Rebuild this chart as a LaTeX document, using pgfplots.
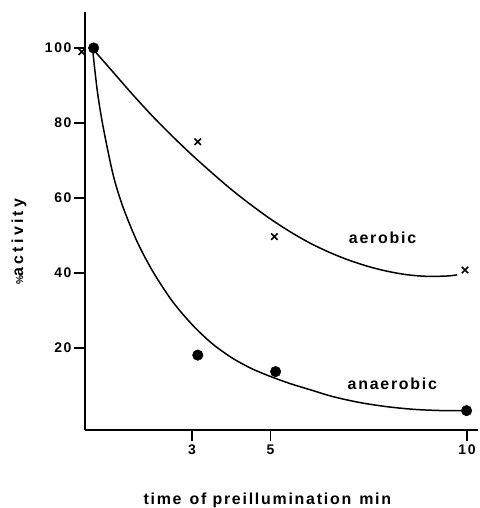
\documentclass[border=0pt]{standalone}
\usepackage{fontspec}
\setmainfont{Liberation Sans}
\usepackage{pgfplots}
\pgfplotsset{compat=1.18}
\newcommand{\lblfont}{\fontsize{16}{17}\selectfont\bfseries\addfontfeature{LetterSpace=11}}
\begin{document}
\begin{tikzpicture}
\useasboundingbox (0,0) rectangle (480bp,508bp);
\begin{axis}[
  at={(85bp,78bp)}, anchor=south west,
  scale only axis, width=393bp, height=418bp,
  xmin=0.28, xmax=10.28, ymin=-1.87, ymax=109.6,
  axis lines*=left,
  axis line style={line width=2bp},
  xtick={3,5,10}, ytick={20,40,60,80,100},
  tick align=outside,
  major tick length=11bp,
  tick style={line width=1.8bp, black},
  /pgf/number format/assume math mode=true,
  ticklabel style={font=\fontsize{14}{15}\selectfont\bfseries\addfontfeature{LetterSpace=12}},
  yticklabel style={xshift=1bp},
  xlabel={\lblfont time\hspace{0.5em}of preillumination\hspace{0.5em}min},
  xlabel style={at={(axis description cs:0.464,0)}, anchor=base, yshift=-74bp},
  ylabel={\lblfont\addfontfeature{LetterSpace=20}{\fontsize{10}{10}\selectfont\%}activity},
  ylabel style={at={(axis description cs:-0.168,0.45)}, anchor=center},
  clip=false,
]
% fitted curves
\addplot[line width=1.5bp, smooth, tension=0.5] coordinates {
 (0.5,99.5) (1.0,93.5) (1.5,87.5) (2.0,81.8) (2.5,76.5) (3.0,71.5)
 (3.5,66.8) (4.0,62.3) (4.5,58.2) (5.0,54.4) (5.5,51.0) (6.0,48.0)
 (6.5,45.5) (7.0,43.4) (7.5,41.7) (8.0,40.4) (8.5,39.5) (9.0,39.1)
 (9.5,39.2) (9.75,39.5)};
\addplot[line width=1.5bp, smooth, tension=0.5] coordinates {
 (0.48,99) (0.6,88) (0.75,78.5) (1.0,66) (1.25,57.5) (1.6,48.5) (2.0,40.5)
 (2.5,32.5) (3.0,26.3) (3.5,21.3) (4.0,17.5) (4.5,14.6) (5.0,12.4)
 (5.5,10.5) (6.0,8.9) (6.6,7.0) (7.3,5.4) (8.0,4.3) (8.7,3.6) (9.4,3.3)
 (9.9,3.3)};
% aerobic data
\addplot[only marks, mark=x, mark size=4.5bp, mark options={line width=1.6bp}] coordinates {
 (0.2,99) (3.15,75.0) (5.10,49.7) (9.95,40.8)};
% anaerobic data
\addplot[only marks, mark=*, mark size=5.3bp] coordinates {
 (0.5,100) (3.15,18.1) (5.13,13.7) (9.99,3.3)};
\node[font=\lblfont, anchor=center] at (axis cs:7.85,49.5) {aerobic};
\node[font=\lblfont, anchor=center] at (axis cs:8.1,10.4) {anaerobic};
\end{axis}
\end{tikzpicture}
\end{document}
